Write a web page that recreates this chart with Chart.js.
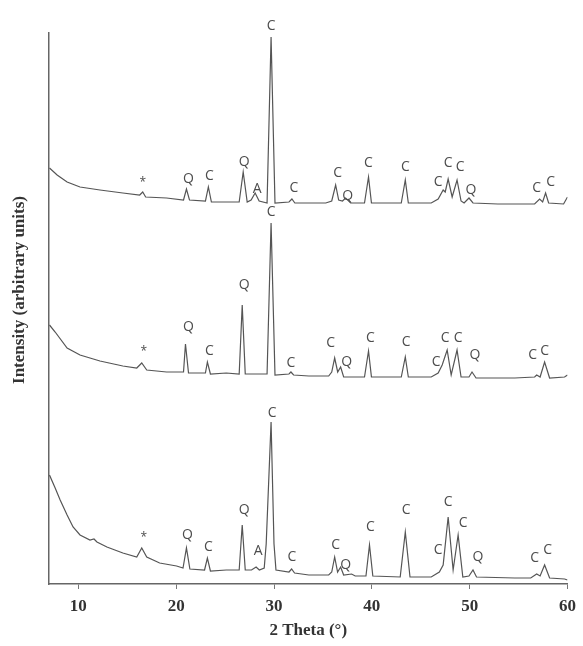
<!DOCTYPE html>
<html>
<head>
<meta charset="utf-8">
<script src="https://cdn.jsdelivr.net/npm/chart.js@4.4.0/dist/chart.umd.min.js"></script>
<style>
  body { margin: 0; background: #fff; }
</style>
</head>
<body>
<canvas id="xrdChart" width="583" height="646"></canvas>
<script>
// 2 theta ticks
const thetaTicks = [10, 20, 30, 40, 50, 60];

// traces as [2 theta, intensity (offset, arbitrary units)]
const topTrace = [
  [7.05, 416], [7.83, 409], [8.85, 402], [10.17, 397], [12.21, 394], [14.55, 391],
  [16.27, 389], [16.58, 392], [16.88, 387], [19.02, 386], [20.75, 384], [21.05, 395],
  [21.36, 384], [22.99, 383], [23.29, 397], [23.6, 382], [25.12, 382], [26.44, 382],
  [26.85, 412], [27.26, 382], [27.66, 384], [28.07, 391], [28.48, 383], [29.29, 381],
  [29.7, 547], [30.1, 381], [31.53, 382], [31.83, 385], [32.13, 381], [35.29, 381],
  [35.9, 383], [36.3, 399], [36.61, 384], [37.0, 383], [37.32, 386], [37.83, 381],
  [39.25, 381], [39.66, 407], [39.96, 381], [43.01, 381], [43.42, 404], [43.73, 381],
  [46.07, 381], [46.78, 385], [47.29, 394], [47.5, 392], [47.8, 405], [48.21, 387],
  [48.71, 404], [49.12, 383], [49.43, 381], [49.93, 386], [50.34, 381], [52.88, 380],
  [56.64, 380], [57.15, 385], [57.46, 382], [57.76, 391], [58.07, 381], [59.6, 380],
  [60.0, 387]
];

const midTrace = [
  [7.05, 259], [7.63, 252], [8.85, 236], [10.17, 229], [12.21, 223], [14.55, 218],
  [15.97, 216], [16.48, 221], [16.99, 214], [19.02, 212], [20.75, 212], [20.95, 240],
  [21.26, 211], [22.99, 211], [23.19, 222], [23.5, 210], [25.12, 211], [26.44, 210],
  [26.75, 279], [27.06, 210], [28.48, 210], [29.29, 210], [29.7, 361], [30.1, 209],
  [31.53, 210], [31.73, 212], [32.0, 209], [33.56, 208], [35.59, 208], [35.9, 212],
  [36.2, 226], [36.51, 212], [36.81, 217], [37.12, 207], [39.25, 207], [39.66, 233],
  [39.96, 207], [43.01, 207], [43.42, 227], [43.73, 207], [46.07, 207], [46.78, 211],
  [47.19, 219], [47.7, 234], [48.11, 209], [48.71, 234], [49.12, 207], [49.93, 207],
  [50.24, 212], [50.65, 206], [54.61, 206], [56.64, 207], [56.85, 209], [57.2, 207],
  [57.66, 222], [58.17, 206], [59.7, 207], [60.0, 209]
];

const lowTrace = [
  [7.05, 109], [7.63, 96], [8.14, 84], [8.85, 69], [9.46, 57], [10.17, 49],
  [11.19, 44], [11.6, 45], [11.9, 42], [12.92, 37], [14.55, 31], [15.97, 27],
  [16.48, 36], [16.99, 27], [18.31, 21], [20.04, 18], [20.7, 16], [21.05, 36],
  [21.4, 15], [22.9, 14], [23.19, 26], [23.5, 13], [25.12, 14], [26.44, 14],
  [26.75, 59], [27.06, 14], [27.7, 14], [28.17, 17], [28.5, 14], [29.0, 16],
  [29.2, 40], [29.7, 162], [30.0, 40], [30.2, 14], [31.53, 12], [31.8, 15],
  [32.1, 11], [33.56, 9], [35.59, 9], [35.9, 12], [36.2, 27], [36.5, 12],
  [36.81, 17], [37.12, 9], [37.93, 10], [38.3, 8], [39.4, 8], [39.76, 39],
  [40.1, 8], [42.9, 7], [43.42, 52], [43.9, 7], [46.07, 7], [46.9, 12],
  [47.29, 19], [47.8, 67], [48.31, 14], [48.82, 49], [49.3, 7], [49.93, 8],
  [50.34, 14], [50.7, 7], [54.61, 6], [56.24, 6], [56.85, 10], [57.2, 8],
  [57.66, 19], [58.17, 6], [59.7, 5], [60.0, 4]
];

// phase labels: [text, 2 theta, intensity]
const topLabels = [
  ['*', 16.58, 401], ['Q', 21.26, 405], ['C', 23.39, 408], ['Q', 26.95, 422],
  ['A', 28.27, 395], ['C', 29.7, 558], ['C', 32.03, 396], ['C', 36.51, 411],
  ['Q', 37.52, 388], ['C', 39.66, 421], ['C', 43.42, 417], ['C', 46.78, 402],
  ['C', 47.8, 421], ['C', 49.02, 417], ['Q', 50.14, 394], ['C', 56.85, 396],
  ['C', 58.27, 402]
];
const midLabels = [
  ['*', 16.68, 232], ['Q', 21.26, 257], ['C', 23.39, 233], ['Q', 26.95, 299],
  ['C', 29.7, 372], ['C', 31.73, 221], ['C', 35.8, 241], ['Q', 37.42, 222],
  ['C', 39.86, 246], ['C', 43.52, 242], ['C', 46.58, 222], ['C', 47.5, 246],
  ['C', 48.82, 246], ['Q', 50.55, 229], ['C', 56.44, 229], ['C', 57.66, 233]
];
const lowLabels = [
  ['*', 16.68, 46], ['Q', 21.16, 49], ['C', 23.29, 37], ['Q', 26.95, 74],
  ['A', 28.37, 33], ['C', 29.8, 171], ['C', 31.83, 27], ['C', 36.3, 39],
  ['Q', 37.32, 19], ['C', 39.86, 57], ['C', 43.52, 74], ['C', 46.78, 34],
  ['C', 47.8, 82], ['C', 49.33, 61], ['Q', 50.85, 27], ['C', 56.64, 26],
  ['C', 57.96, 34]
];

const toPoints = (arr) => arr.map(([x, y]) => ({ x, y }));

const serif = '"Liberation Serif", "Times New Roman", serif';

const peakText = {
  id: "peakText",
  afterDatasetsDraw(chart) {
    const { ctx, scales: { x, y } } = chart;
    ctx.save();
    ctx.fillStyle = "#4d4d4d";
    ctx.textAlign = "center";
    ctx.textBaseline = "middle";
    [topLabels, midLabels, lowLabels].forEach((list) => {
      list.forEach(([t, a, b]) => {
        ctx.font = t === "*" ? '12px "Open Sans"' : '14px "Open Sans"';
        ctx.fillText(t, x.getPixelForValue(a), y.getPixelForValue(b));
      });
    });
    // y axis title
    ctx.fillStyle = "#333";
    ctx.font = "bold 17px " + serif;
    ctx.translate(20, 290);
    ctx.rotate(-Math.PI / 2);
    ctx.fillText("Intensity (arbitrary units)", 0, 0);
    ctx.restore();
  },
};

const lineStyle = {
  borderColor: "#555",
  borderWidth: 1.2,
  pointRadius: 0,
  tension: 0,
  fill: false,
};

let ctx = document.getElementById("xrdChart").getContext("2d");
new Chart(ctx, {
  type: "line",
  data: {
    datasets: [
      { label: "top", data: toPoints(topTrace), ...lineStyle },
      { label: "middle", data: toPoints(midTrace), ...lineStyle },
      { label: "bottom", data: toPoints(lowTrace), ...lineStyle },
    ],
  },
  options: {
    responsive: false,
    animation: false,
    layout: { padding: { top: 33, right: 13, left: 0, bottom: 0 } },
    plugins: {
      legend: { display: false },
      tooltip: { enabled: false },
    },
    scales: {
      x: {
        type: "linear",
        min: 7,
        max: 60,
        afterBuildTicks: (s) => {
          s.ticks = thetaTicks.map((v) => ({ value: v }));
        },
        afterFit: (s) => {
          s.height = 62;
        },
        ticks: {
          color: "#333",
          padding: 7,
          font: { family: serif, size: 17, weight: "bold" },
        },
        grid: {
          drawOnChartArea: false,
          drawTicks: true,
          tickLength: 5,
          color: "#777",
        },
        border: { color: "#666", width: 1.5 },
        title: {
          display: true,
          text: "2 Theta (°)",
          color: "#333",
          font: { family: serif, size: 17, weight: "bold" },
          padding: { top: 0, bottom: 5 },
        },
      },
      y: {
        min: 0,
        max: 551,
        ticks: { display: false },
        grid: { display: false },
        border: { color: "#666", width: 1.5 },
        afterFit: (s) => {
          s.width = 49;
        },
      },
    },
  },
  plugins: [peakText],
});
</script>
</body>
</html>
